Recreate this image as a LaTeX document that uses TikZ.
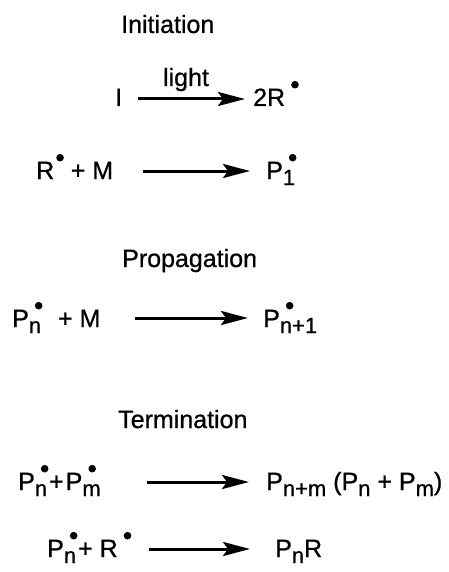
\documentclass[tikz,border=0pt]{standalone}
\usepackage{fontspec}
\setmainfont[FakeBold=0.8]{Liberation Sans}
\usetikzlibrary{arrows.meta}
\newcommand\rdot{\raisebox{17.5pt}{\tikz\fill (0,0) circle (3.8pt);}}
\newcommand\sbs[1]{\raisebox{-6pt}{\fontsize{22}{22}\selectfont #1}}
\newcommand\sd[1]{\makebox[0pt][l]{\hspace{6pt}\rdot}\sbs{#1}}
\begin{document}
\begin{tikzpicture}[x=1pt,y=-1pt,
  every node/.style={inner sep=0pt, font=\fontsize{25}{29}\selectfont},
  eqtext/.style={anchor=base west},
  rxn/.style={line width=3pt, -{Stealth[length=27pt,width=14pt,inset=5pt]}}]
\useasboundingbox (0,0) rectangle (449,572);
% titles
\node[eqtext] (tinit) at (121,33) {Initiation};
\node[eqtext] (tprop) at (122,267) {Propagation};
\node[eqtext] (tterm) at (118,428) {Termination};
% line 1
\node[eqtext] (r1) at (115,106) {I};
\node[eqtext] (p1) at (253,106) {2R\hspace{6pt}\rdot};
\coordinate (a1s) at (138,99);
\coordinate (a1e) at (245,99);
\draw[rxn] (a1s) -- (a1e);
\node[anchor=base] (lt) at (186,86) {light};
% line 2
\node[eqtext] (r2) at (36,179) {R\hspace{2pt}\rdot{} + M};
\node[eqtext] (p2) at (266,179) {P\sd{1}};
\coordinate (a2s) at (143,171);
\coordinate (a2e) at (250,171);
\draw[rxn] (a2s) -- (a2e);
% line 3
\node[eqtext] (r3) at (12,327) {P\sd{n}\hspace{10pt} + M};
\node[eqtext] (p3) at (263,327) {P\sd{n+1}};
\coordinate (a3s) at (135,318);
\coordinate (a3e) at (248,318);
\draw[rxn] (a3s) -- (a3e);
% line 4
\node[eqtext] (r4) at (18,490) {P\sd{n}\hspace{2pt}+\hspace{2pt}P\sd{m}};
\node[eqtext] (p4) at (266,490) {P\sbs{n+m} (P\sbs{n} + P\sbs{m})};
\coordinate (a4s) at (147,482);
\coordinate (a4e) at (249,482);
\draw[rxn] (a4s) -- (a4e);
% line 5
\node[eqtext] (r5) at (47,557) {P\sd{n}\hspace{2pt}+ R\hspace{6pt}\rdot};
\node[eqtext] (p5) at (275,557) {P\sbs{n}R};
\coordinate (a5s) at (149,549);
\coordinate (a5e) at (250,549);
\draw[rxn] (a5s) -- (a5e);
\end{tikzpicture}
\end{document}
